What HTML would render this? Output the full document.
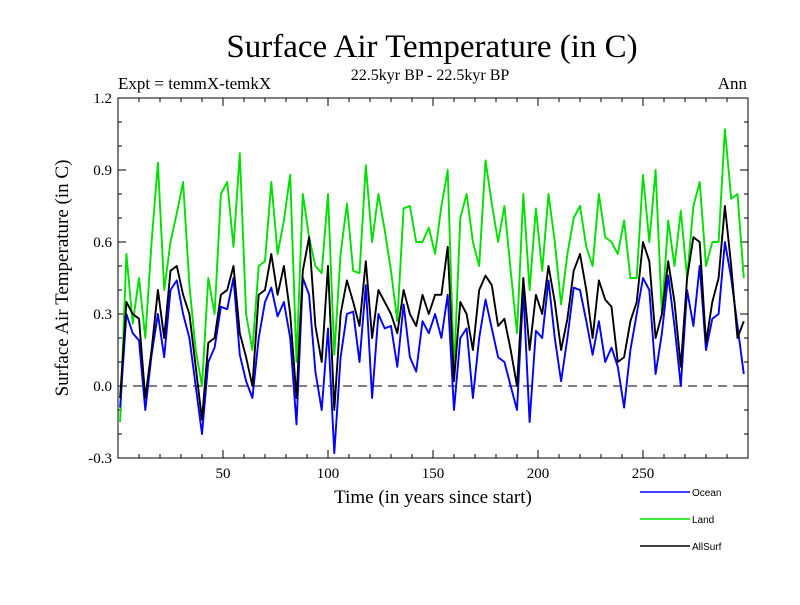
<!DOCTYPE html>
<html><head><meta charset="utf-8"><style>
body{margin:0;background:#fff;}
svg text{font-family:"Liberation Serif",serif;}
</style></head><body>
<svg id="chart" width="800" height="600" viewBox="0 0 800 600" xmlns="http://www.w3.org/2000/svg">
<text x="432" y="57" font-size="33" text-anchor="middle">Surface Air Temperature (in C)</text>
<text x="430" y="80" font-size="16" text-anchor="middle">22.5kyr BP - 22.5kyr BP</text>
<text x="118" y="89" font-size="17">Expt = temmX-temkX</text>
<text x="747" y="89" font-size="17" text-anchor="end">Ann</text>
<text transform="translate(68,278) rotate(-90)" font-size="19" text-anchor="middle">Surface Air Temperature (in C)</text>
<text x="433" y="503" font-size="19" text-anchor="middle">Time (in years since start)</text>
<g id="axes"></g>
<g id="series"></g>
<rect x="118" y="98" width="630" height="360" fill="none" stroke="#000" stroke-width="1"/>
<g font-size="10">
<g><line x1="640" y1="492" x2="690" y2="492" stroke="#0000ff" stroke-width="1.5"/><text x="692" y="496" style="font-family:'Liberation Sans',sans-serif">Ocean</text></g>
<g><line x1="640" y1="519" x2="690" y2="519" stroke="#00e000" stroke-width="1.5"/><text x="692" y="523" style="font-family:'Liberation Sans',sans-serif">Land</text></g>
<g><line x1="640" y1="546" x2="690" y2="546" stroke="#000" stroke-width="1.5"/><text x="692" y="550" style="font-family:'Liberation Sans',sans-serif">AllSurf</text></g>
</g>
</svg>
<script>
const years = [];
for (let i = 0; i < 100; i++) years.push(1 + 3 * i);
const xTickValues = [50, 100, 150, 200, 250];
const yTickLabels = ["-0.3", "0.0", "0.3", "0.6", "0.9", "1.2"];
const landValues = [-0.15,0.55,0.26,0.45,0.2,0.6,0.93,0.4,0.6,0.72,0.85,0.42,0.15,0.0,0.45,0.3,0.8,0.85,0.58,0.97,0.3,0.15,0.5,0.52,0.85,
0.55,0.69,0.88,0.1,0.8,0.62,0.5,0.47,0.8,0.13,0.55,0.76,0.48,0.47,0.92,0.6,0.8,0.65,0.48,0.27,0.74,0.75,0.6,0.6,0.66,
0.55,0.75,0.9,0.06,0.7,0.8,0.6,0.5,0.94,0.76,0.6,0.75,0.48,0.22,0.8,0.4,0.74,0.48,0.8,0.6,0.34,0.55,0.7,0.75,0.58,
0.5,0.8,0.62,0.6,0.55,0.69,0.45,0.45,0.88,0.6,0.9,0.3,0.69,0.5,0.73,0.45,0.75,0.85,0.5,0.6,0.6,1.07,0.78,0.8,0.45];
const oceanValues = [-0.09,0.3,0.22,0.19,-0.1,0.13,0.3,0.12,0.4,0.44,0.3,0.2,0.0,-0.2,0.1,0.16,0.33,0.32,0.45,0.13,0.02,-0.05,0.2,0.35,0.41,
0.29,0.35,0.2,-0.16,0.45,0.38,0.06,-0.1,0.24,-0.28,0.12,0.3,0.31,0.1,0.42,-0.05,0.3,0.24,0.25,0.08,0.34,0.12,0.06,0.27,0.22,
0.3,0.2,0.38,-0.1,0.2,0.24,-0.05,0.2,0.36,0.24,0.12,0.1,0.0,-0.1,0.4,-0.15,0.23,0.2,0.44,0.2,0.02,0.2,0.41,0.4,0.27,
0.13,0.27,0.1,0.16,0.08,-0.09,0.15,0.3,0.45,0.4,0.05,0.22,0.46,0.25,0.0,0.4,0.25,0.5,0.15,0.28,0.3,0.6,0.45,0.25,0.05];
const allSurfValues = [-0.05,0.35,0.3,0.28,-0.05,0.15,0.4,0.2,0.48,0.5,0.38,0.3,0.08,-0.14,0.18,0.2,0.38,0.4,0.5,0.22,0.12,0.0,0.38,0.4,0.55,
0.38,0.5,0.3,-0.05,0.48,0.62,0.25,0.1,0.5,-0.1,0.3,0.44,0.35,0.25,0.52,0.2,0.4,0.35,0.3,0.22,0.4,0.3,0.25,0.38,0.3,
0.38,0.38,0.58,0.02,0.35,0.3,0.15,0.4,0.46,0.42,0.25,0.28,0.15,0.0,0.45,0.15,0.38,0.3,0.5,0.35,0.15,0.28,0.48,0.55,0.4,
0.2,0.44,0.36,0.33,0.1,0.12,0.27,0.35,0.6,0.52,0.2,0.3,0.52,0.35,0.08,0.45,0.62,0.6,0.18,0.35,0.45,0.75,0.5,0.2,0.27];

const NS = "http://www.w3.org/2000/svg";
const X0 = 118, X1 = 748, Y0 = 458, Y1 = 98;
const xMin = 0, xMax = 300, yMin = -0.3, yMax = 1.2;
function xs(v){ return X0 + (v - xMin) / (xMax - xMin) * (X1 - X0); }
function ys(v){ return Y0 - (v - yMin) / (yMax - yMin) * (Y0 - Y1); }
function mk(tag, attrs){ const e = document.createElementNS(NS, tag); for (const k in attrs) e.setAttribute(k, attrs[k]); return e; }

const axes = document.getElementById("axes");
const zl = mk("line", {x1:X0, x2:X1, y1:ys(0), y2:ys(0), stroke:"#000", "stroke-width":1, "stroke-dasharray":"9,6"});


axes.appendChild(zl);
for (let t = 10; t < 300; t += 10) {
  const major = t % 50 === 0;
  const len = major ? 8 : 4;
  const b = mk("line", {x1:xs(t), x2:xs(t), y1:Y0, y2:Y0 - len, stroke:"#000", "stroke-width":1});
  
  
  axes.appendChild(b);
  const tp = mk("line", {x1:xs(t), x2:xs(t), y1:Y1, y2:Y1 + len, stroke:"#000", "stroke-width":1});
  
  
  axes.appendChild(tp);
}
xTickValues.forEach(v => {
  const tx = mk("text", {x:xs(v), y:Y0 + 20, "font-size":15, "text-anchor":"middle"});
  tx.textContent = v;
  
  
  axes.appendChild(tx);
});
for (let i = 1; i < 15; i++) {
  const v = yMin + i * 0.1;
  const major = i % 3 === 0;
  const len = major ? 8 : 4;
  const l = mk("line", {x1:X0, x2:X0 + len, y1:ys(v), y2:ys(v), stroke:"#000", "stroke-width":1});
  
  
  axes.appendChild(l);
  const r = mk("line", {x1:X1, x2:X1 - len, y1:ys(v), y2:ys(v), stroke:"#000", "stroke-width":1});
  
  
  axes.appendChild(r);
}
yTickLabels.forEach(s => {
  const tx = mk("text", {x:X0 - 6, y:ys(parseFloat(s)) + 5, "font-size":15, "text-anchor":"end"});
  tx.textContent = s;
  
  
  axes.appendChild(tx);
});
const sg = document.getElementById("series");
function drawSeries(vals, color, name){
  const d = vals.map((v, i) => (i ? "L" : "M") + xs(years[i]).toFixed(1) + "," + ys(v).toFixed(1)).join(" ");
  const p = mk("path", {d:d, fill:"none", stroke:color, "stroke-width":1.9, "stroke-linejoin":"round"});
  
  
  sg.appendChild(p);
}
drawSeries(landValues, "#00e000", "land-series-line");
drawSeries(oceanValues, "#0000ff", "ocean-series-line");
drawSeries(allSurfValues, "#000000", "allsurf-series-line");
</script>
</body></html>
